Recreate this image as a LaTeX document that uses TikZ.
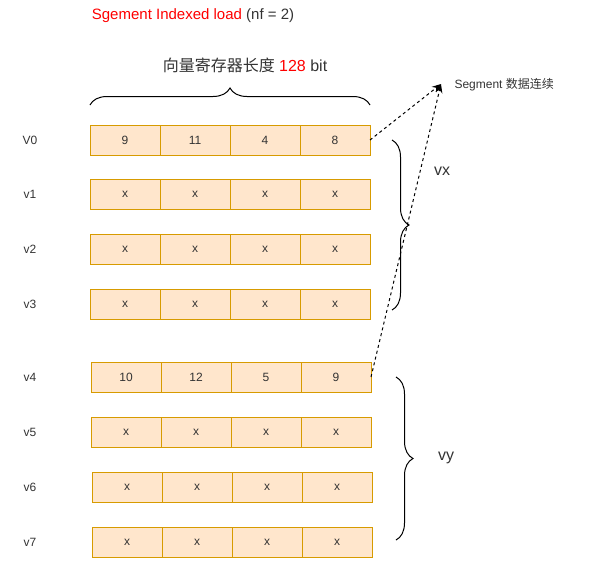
\documentclass[tikz,border=0pt]{standalone}
\usepackage{fontspec}
\setmainfont{Liberation Sans}
\newfontfamily\cjk{Noto Sans CJK SC}
\usetikzlibrary{positioning,arrows.meta,decorations.pathreplacing}
\definecolor{regfill}{HTML}{FFE6CC}
\definecolor{regline}{HTML}{D79B00}
\definecolor{txt}{HTML}{333333}

\tikzstyle{cell}=[draw=regline,fill=regfill,line width=1pt,minimum width=70pt,minimum height=30pt,inner sep=0pt,outer sep=0pt,text=txt,font=\fontsize{12}{14}\selectfont]
\tikzstyle{reglabel}=[text=txt,font=\fontsize{12}{14}\selectfont]
\tikzstyle{bracket}=[draw,line width=1pt,decorate,decoration={brace,amplitude=17pt}]
\tikzstyle{dashline}=[draw,line width=1pt,dash pattern=on 3pt off 3pt,-{Stealth[length=9pt,width=7pt]}]

\begin{document}
\begin{tikzpicture}[x=1pt,y=-1pt]
	\useasboundingbox (0,0) rectangle (591,560);
	% titles
	\node[text=txt,font=\fontsize{15}{18}\selectfont] (title) at (193,16) {\textcolor{red}{Sgement Indexed load} (nf = 2)};
	\node[text=txt,font=\fontsize{16}{19}\selectfont] (width) at (245,65) {{\cjk 向量寄存器长度} \textcolor{red}{128} bit};
	% registers
	\foreach \r/\lab/\x/\y/\a/\b/\c/\d in {0/V0/90/140/9/11/4/8, 1/v1/90/194/x/x/x/x, 2/v2/90/249/x/x/x/x, 3/v3/90/304/x/x/x/x,
		4/v4/91/377/10/12/5/9, 5/v5/91/432/x/x/x/x, 6/v6/92/487/x/x/x/x, 7/v7/92/542/x/x/x/x} {
		\node[reglabel] (l\r) at (30,\y) {\lab};
		\node[cell] (c\r-1) at (\x+35,\y) {\a};
		\node[cell,right=0pt of c\r-1] (c\r-2) {\b};
		\node[cell,right=0pt of c\r-2] (c\r-3) {\c};
		\node[cell,right=0pt of c\r-3] (c\r-4) {\d};
	}
	% braces
	\path[bracket] (90,105) -- (370,105);
	\path[bracket] (392,140) -- (392,310);
	\path[bracket] (396,377) -- (396,540);
	\node[text=txt,font=\fontsize{16}{19}\selectfont] (vx) at (442,171) {vx};
	\node[text=txt,font=\fontsize{16}{19}\selectfont] (vy) at (446,458) {vy};
	% segment arrows
	\node[anchor=west,text=txt,font=\fontsize{12}{14}\selectfont] (seg) at (451,85) {Segment {\cjk 数据连续}};
	\coordinate (tip) at (441,84);
	\path[dashline] (c0-4.east) -- (tip);
	\path[dashline] (c4-4.east) -- (tip);
\end{tikzpicture}
\end{document}
